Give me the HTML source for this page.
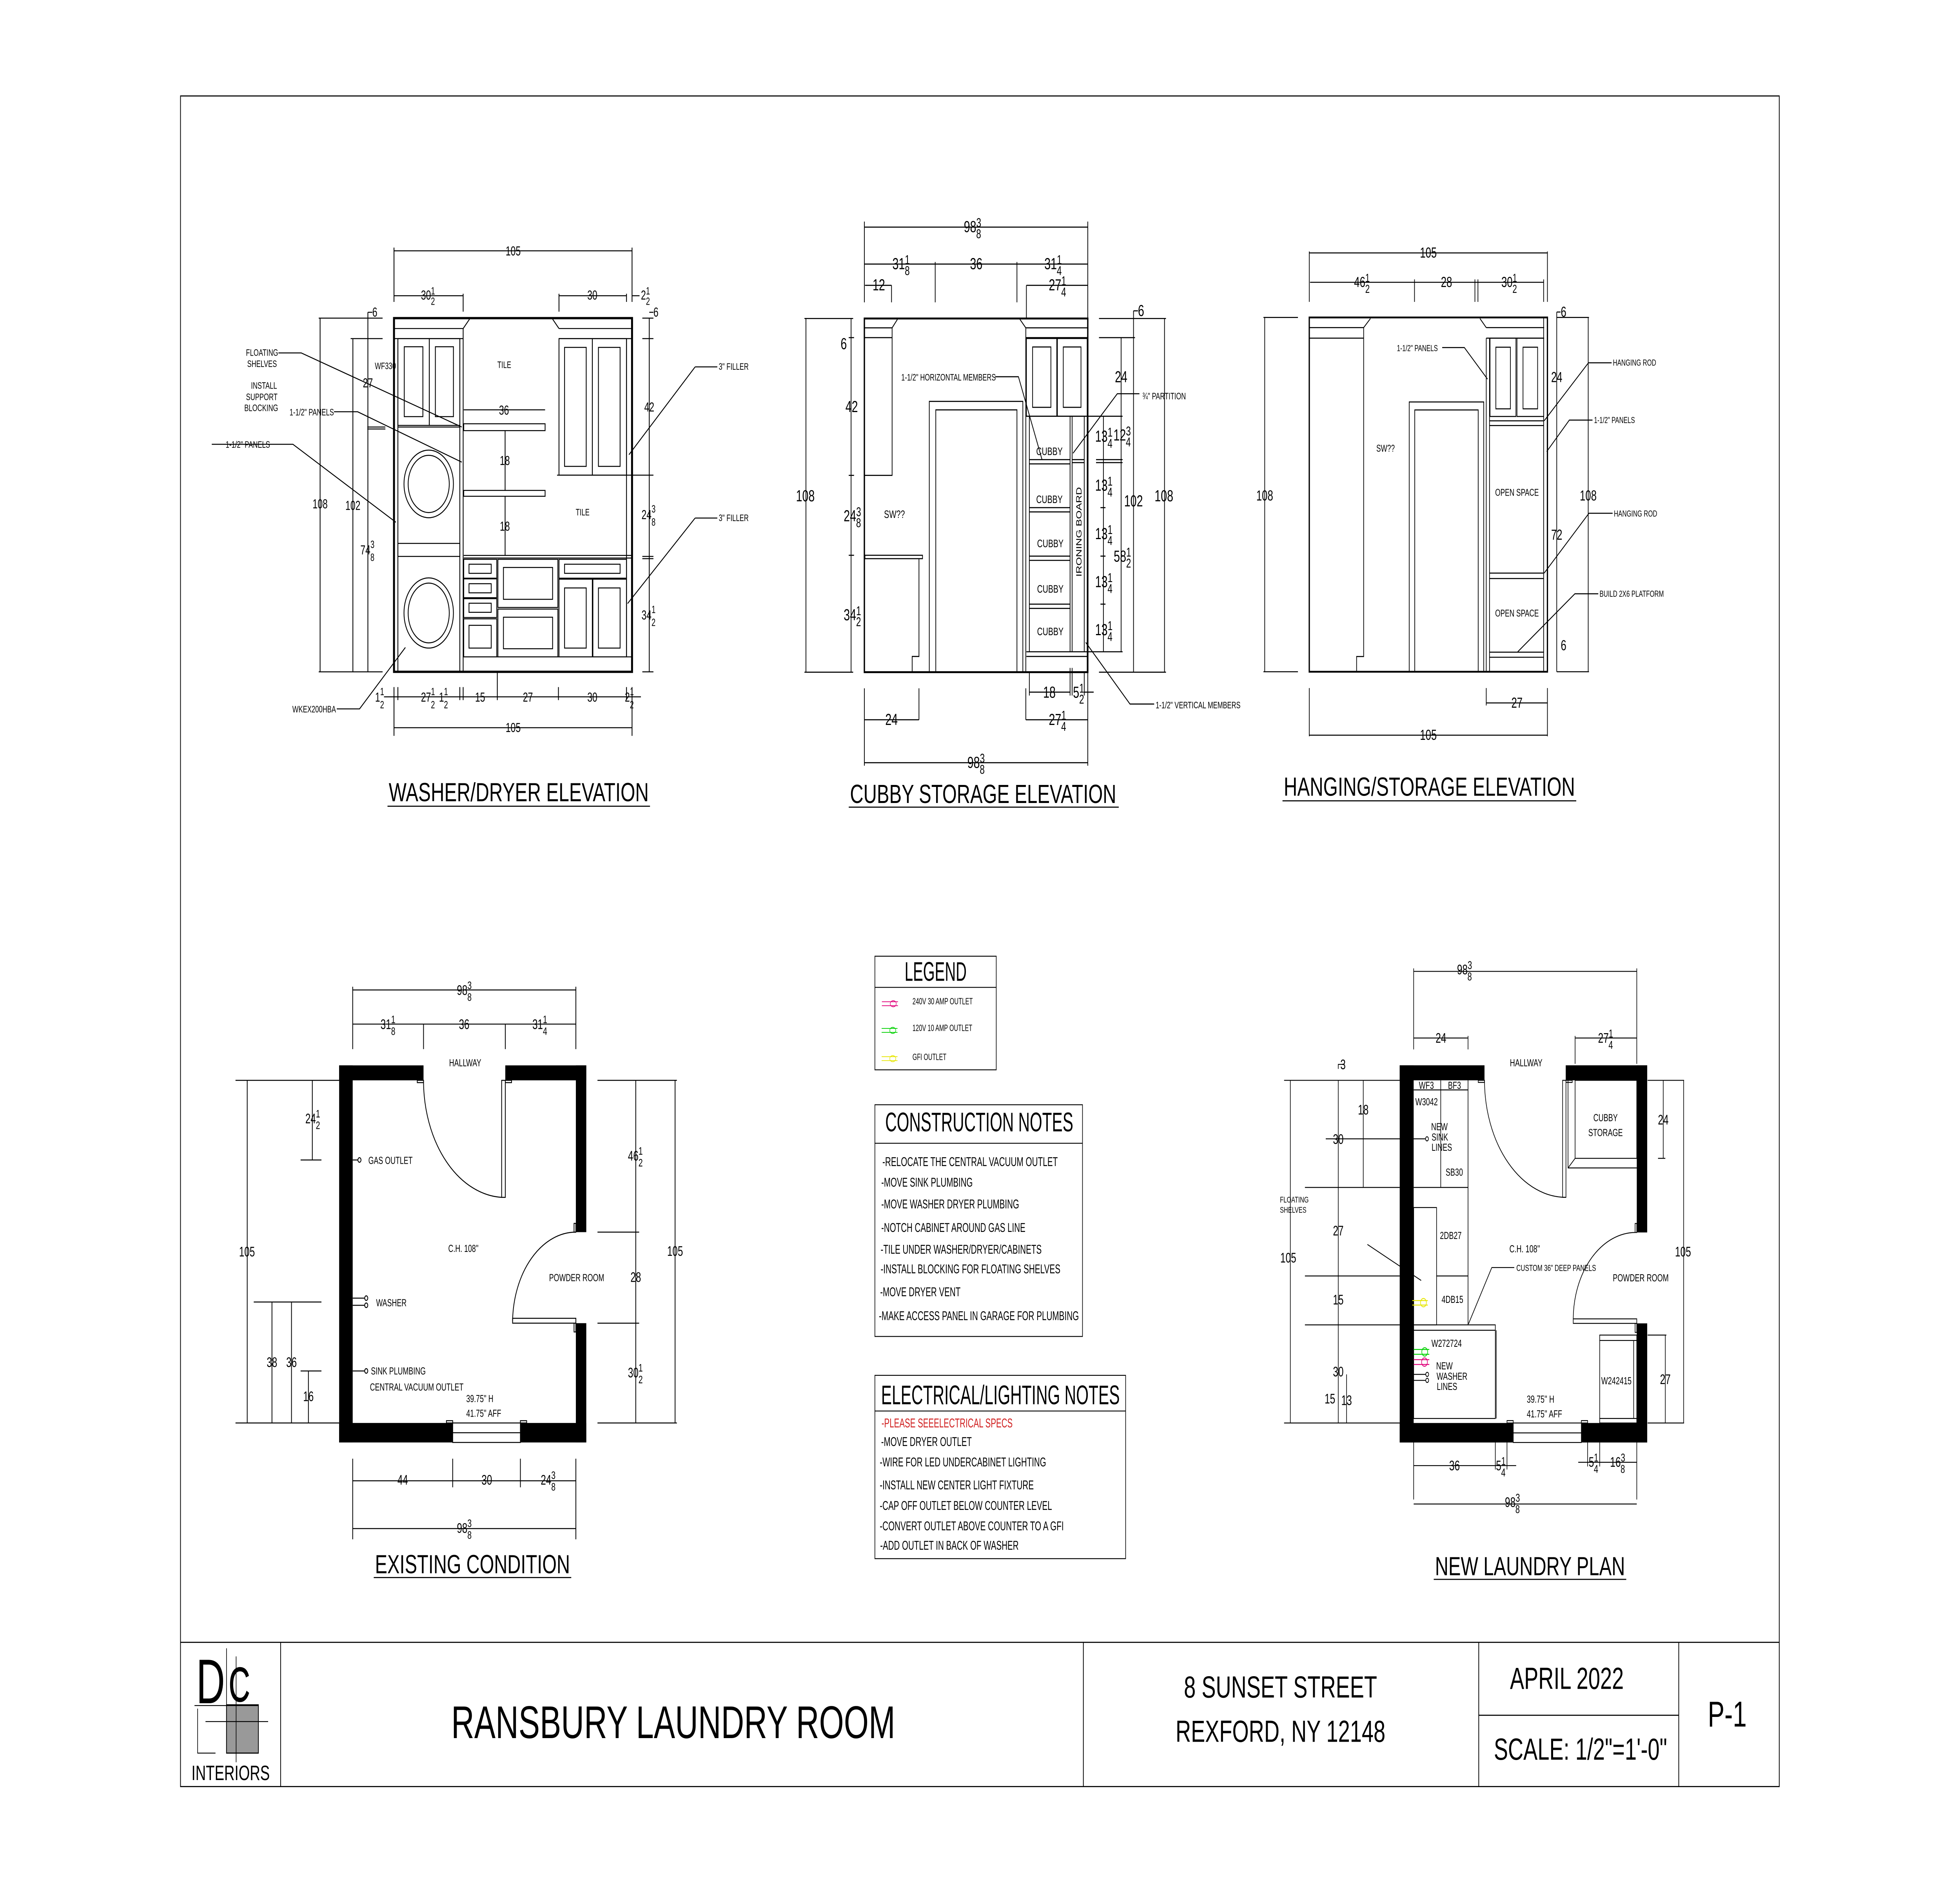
<!DOCTYPE html>
<html><head><meta charset="utf-8"><style>
html,body{margin:0;padding:0;background:#fff;overflow:hidden;width:100%;height:100%;}
svg{display:block;width:100vw;height:100vh;}
text{font-family:"Liberation Sans",Arial,sans-serif;fill:#000;}
</style></head><body>
<svg xmlns="http://www.w3.org/2000/svg" viewBox="0 0 1568 1045.3" preserveAspectRatio="none">
<rect x="0" y="0" width="1568" height="1045.3" fill="#fff"/>
<g fill="none" stroke="#000" stroke-width="0.6">
<rect x="144.4" y="53.3" width="1279" height="939"/>
<line x1="144.4" y1="912.2" x2="1423.4" y2="912.2"/>
<line x1="224.5" y1="912.2" x2="224.5" y2="992.4"/>
<line x1="866.7" y1="912.2" x2="866.7" y2="992.4"/>
<line x1="1183" y1="912.2" x2="1183" y2="992.4"/>
<line x1="1343" y1="912.2" x2="1343" y2="992.4"/>
<line x1="1183" y1="952.7" x2="1343" y2="952.7"/>
</g>
<text x="538.6" y="965.4" font-size="25.5" text-anchor="middle">RANSBURY LAUNDRY ROOM</text>
<text x="1024.4" y="942.8" font-size="17" text-anchor="middle">8 SUNSET STREET</text>
<text x="1024.4" y="967.4" font-size="17" text-anchor="middle">REXFORD, NY 12148</text>
<text x="1253.5" y="938" font-size="17" text-anchor="middle">APRIL 2022</text>
<text x="1264.4" y="977.4" font-size="17" text-anchor="middle">SCALE: 1/2"=1'-0"</text>
<text x="1381.8" y="959" font-size="20" text-anchor="middle">P-1</text>
<rect x="181.2" y="946.9" width="25.5" height="26.8" fill="#999" stroke="#000" stroke-width="0.6"/>
<text x="157" y="946" font-size="35" textLength="23" lengthAdjust="spacingAndGlyphs">D</text>
<text x="183" y="945" font-size="27" fill="none" stroke="#000" stroke-width="0.35" textLength="17" lengthAdjust="spacingAndGlyphs">C</text>
<g stroke="#000" stroke-width="0.5" fill="none">
<line x1="155.6" y1="947.3" x2="206.7" y2="947.3"/>
<line x1="181.2" y1="915.5" x2="181.2" y2="947.3"/>
<line x1="188.9" y1="920" x2="188.9" y2="978.8"/>
<line x1="164.4" y1="956.2" x2="214.5" y2="956.2"/>
<polyline points="158.1,949 158.1,973.7 172.4,973.7"/>
</g>
<text x="184.5" y="988.7" font-size="11.5" text-anchor="middle">INTERIORS</text>

<g font-size="14.5">
<text x="311" y="445" textLength="208" lengthAdjust="spacingAndGlyphs">WASHER/DRYER ELEVATION</text>
<text x="680" y="446" textLength="213" lengthAdjust="spacingAndGlyphs">CUBBY STORAGE ELEVATION</text>
<text x="1027" y="442" textLength="233" lengthAdjust="spacingAndGlyphs">HANGING/STORAGE ELEVATION</text>
<text x="300" y="873.8" textLength="156" lengthAdjust="spacingAndGlyphs">EXISTING CONDITION</text>
<text x="1148" y="874.9" textLength="152" lengthAdjust="spacingAndGlyphs">NEW LAUNDRY PLAN</text>
</g>
<g stroke="#000" stroke-width="0.6">
<line x1="310" y1="447.8" x2="520" y2="447.8"/>
<line x1="679" y1="448.3" x2="895" y2="448.3"/>
<line x1="1026" y1="444.8" x2="1261" y2="444.8"/>
<line x1="299" y1="876.2" x2="457" y2="876.2"/>
<line x1="1147" y1="877.2" x2="1301" y2="877.2"/>
</g>

<g fill="none" stroke="#000" stroke-width="0.5">
<rect x="699.9" y="531.1" width="97.1" height="63.1"/>
<line x1="699.9" y1="548.4" x2="797" y2="548.4"/>
<rect x="699.9" y="613.6" width="166.1" height="128.7"/>
<line x1="699.9" y1="635" x2="866" y2="635"/>
<rect x="699.9" y="763.9" width="200.6" height="101.8"/>
<line x1="699.9" y1="783.7" x2="900.5" y2="783.7"/>
</g>
<g stroke-width="0.4" fill="none">
<line x1="705.5" y1="556.4" x2="718.4" y2="556.4" stroke="#e0007a"/><line x1="705.5" y1="558.6" x2="718.4" y2="558.6" stroke="#e0007a"/><ellipse cx="714.6" cy="557.5" rx="2.4" ry="1.7" stroke="#e0007a"/>
<line x1="705.3" y1="571.2" x2="718" y2="571.2" stroke="#00d000"/><line x1="705.3" y1="573.4" x2="718" y2="573.4" stroke="#00d000"/><ellipse cx="714.2" cy="572.3" rx="2.4" ry="1.7" stroke="#00d000"/>
<line x1="705.3" y1="586.9" x2="718" y2="586.9" stroke="#e6e600"/><line x1="705.3" y1="589.1" x2="718" y2="589.1" stroke="#e6e600"/><ellipse cx="714.2" cy="588" rx="2.4" ry="1.7" stroke="#e6e600"/>
</g>
<text x="723.7" y="544.8" font-size="15" textLength="49.6" lengthAdjust="spacingAndGlyphs">LEGEND</text>
<g font-size="5">
<text x="730" y="557.8" textLength="48.2" lengthAdjust="spacingAndGlyphs">240V 30 AMP OUTLET</text>
<text x="730" y="572.6" textLength="47.8" lengthAdjust="spacingAndGlyphs">120V 10 AMP OUTLET</text>
<text x="730" y="588.7" textLength="27.1" lengthAdjust="spacingAndGlyphs">GFI OUTLET</text>
</g>
<text x="708.2" y="628.4" font-size="15" textLength="150.4" lengthAdjust="spacingAndGlyphs">CONSTRUCTION NOTES</text>
<g font-size="7">
<text x="705.9" y="647.7" textLength="140.3" lengthAdjust="spacingAndGlyphs">-RELOCATE THE CENTRAL VACUUM OUTLET</text>
<text x="705" y="659.1" textLength="73.2" lengthAdjust="spacingAndGlyphs">-MOVE SINK PLUMBING</text>
<text x="705" y="671.2" textLength="110.3" lengthAdjust="spacingAndGlyphs">-MOVE WASHER DRYER PLUMBING</text>
<text x="705" y="684.2" textLength="115.3" lengthAdjust="spacingAndGlyphs">-NOTCH CABINET AROUND GAS LINE</text>
<text x="704.5" y="696.3" textLength="128.8" lengthAdjust="spacingAndGlyphs">-TILE UNDER WASHER/DRYER/CABINETS</text>
<text x="704.5" y="707.2" textLength="143.8" lengthAdjust="spacingAndGlyphs">-INSTALL BLOCKING FOR FLOATING SHELVES</text>
<text x="704.1" y="719.9" textLength="64.3" lengthAdjust="spacingAndGlyphs">-MOVE DRYER VENT</text>
<text x="703.1" y="733.2" textLength="160" lengthAdjust="spacingAndGlyphs">-MAKE ACCESS PANEL IN GARAGE FOR PLUMBING</text>
</g>
<text x="704.9" y="779.9" font-size="15" textLength="190.9" lengthAdjust="spacingAndGlyphs">ELECTRICAL/LIGHTING NOTES</text>
<g font-size="7">
<text x="705.2" y="792.8" textLength="104.9" lengthAdjust="spacingAndGlyphs" style="fill:#d02020">-PLEASE SEEELECTRICAL SPECS</text>
<text x="704.9" y="803.1" textLength="72.5" lengthAdjust="spacingAndGlyphs">-MOVE DRYER OUTLET</text>
<text x="703.8" y="814.5" textLength="133.1" lengthAdjust="spacingAndGlyphs">-WIRE FOR LED UNDERCABINET LIGHTING</text>
<text x="703.8" y="827.2" textLength="123.2" lengthAdjust="spacingAndGlyphs">-INSTALL NEW CENTER LIGHT FIXTURE</text>
<text x="703.8" y="838.6" textLength="137.8" lengthAdjust="spacingAndGlyphs">-CAP OFF OUTLET BELOW COUNTER LEVEL</text>
<text x="703.8" y="850" textLength="147.2" lengthAdjust="spacingAndGlyphs">-CONVERT OUTLET ABOVE COUNTER TO A GFI</text>
<text x="704.1" y="860.7" textLength="110.8" lengthAdjust="spacingAndGlyphs">-ADD OUTLET IN BACK OF WASHER</text>
</g>

<!-- WASHER/DRYER ELEVATION -->
<g transform="translate(191.64 130.66) scale(0.22222 0.18055)">
<g fill="none" stroke="#000" stroke-width="3">
<rect x="556" y="255" width="857" height="1088" stroke-width="7"/>
<line x1="556" y1="287" x2="805" y2="287"/><line x1="556" y1="318" x2="805" y2="318"/>
<line x1="828" y1="258" x2="805" y2="287"/><line x1="1127" y1="258" x2="1150" y2="287"/>
<line x1="1150" y1="287" x2="1413" y2="287"/><line x1="1150" y1="318" x2="1413" y2="318"/>
<line x1="570" y1="318" x2="570" y2="1340"/><line x1="805" y1="287" x2="805" y2="1340"/><line x1="793" y1="318" x2="793" y2="1340"/>
<rect x="570" y="318" width="113" height="267"/><rect x="683" y="318" width="110" height="267"/>
<rect x="593" y="343" width="67" height="215"/><rect x="705" y="343" width="65" height="215"/>
<line x1="570" y1="590" x2="793" y2="590"/>
<rect x="570" y="948" width="223" height="40"/>
<ellipse cx="681" cy="765" rx="89" ry="104"/><ellipse cx="681" cy="765" rx="74" ry="88"/>
<ellipse cx="681" cy="1162" rx="89" ry="108"/><ellipse cx="681" cy="1162" rx="74" ry="92"/>
<rect x="807" y="580" width="293" height="21"/><rect x="807" y="785" width="293" height="18"/>
<rect x="1150" y="318" width="120" height="420"/><rect x="1270" y="318" width="123" height="420"/>
<rect x="1170" y="345" width="78" height="366"/><rect x="1292" y="345" width="78" height="366"/>
<line x1="1143" y1="738" x2="1413" y2="738"/><line x1="1393" y1="318" x2="1393" y2="1297"/>
<line x1="807" y1="985" x2="1413" y2="985"/><line x1="807" y1="993" x2="1413" y2="993"/>
<rect x="807" y="997" width="119" height="58"/><rect x="807" y="1057" width="119" height="58"/><rect x="807" y="1118" width="119" height="58"/><rect x="807" y="1180" width="119" height="117"/>
<rect x="826" y="1012" width="80" height="28"/><rect x="826" y="1072" width="80" height="28"/><rect x="826" y="1132" width="80" height="28"/><rect x="826" y="1200" width="80" height="70"/>
<rect x="930" y="997" width="216" height="148"/><rect x="930" y="1150" width="216" height="147"/>
<rect x="950" y="1022" width="177" height="98"/><rect x="950" y="1175" width="177" height="97"/>
<rect x="1150" y="997" width="243" height="58"/><rect x="1170" y="1012" width="200" height="28"/>
<rect x="1150" y="1058" width="120" height="239"/><rect x="1272" y="1058" width="121" height="239"/>
<rect x="1170" y="1085" width="78" height="185"/><rect x="1292" y="1085" width="78" height="185"/>
<line x1="807" y1="1297" x2="1413" y2="1297"/>
<line x1="556" y1="48" x2="1413" y2="48"/><line x1="556" y1="38" x2="556" y2="205"/><line x1="1413" y1="38" x2="1413" y2="205"/>
<line x1="556" y1="186" x2="805" y2="186"/><line x1="805" y1="180" x2="805" y2="235"/>
<line x1="1150" y1="186" x2="1393" y2="186"/><line x1="1150" y1="180" x2="1150" y2="235"/><line x1="1393" y1="180" x2="1393" y2="205"/><line x1="1413" y1="186" x2="1440" y2="186"/>
<line x1="290" y1="255" x2="290" y2="1343"/><line x1="408" y1="318" x2="408" y2="1343"/><line x1="462" y1="237" x2="462" y2="1343"/>
<line x1="285" y1="255" x2="515" y2="255"/><line x1="400" y1="318" x2="515" y2="318"/><line x1="285" y1="1343" x2="515" y2="1343"/>
<line x1="460" y1="590" x2="525" y2="590"/><line x1="460" y1="596" x2="525" y2="596"/><line x1="462" y1="237" x2="478" y2="237"/>
<line x1="1475" y1="255" x2="1475" y2="1343"/><line x1="1475" y1="237" x2="1490" y2="237"/>
<line x1="1450" y1="255" x2="1490" y2="255"/><line x1="1450" y1="318" x2="1490" y2="318"/><line x1="1413" y1="738" x2="1490" y2="738"/><line x1="1450" y1="988" x2="1490" y2="988"/><line x1="1450" y1="995" x2="1490" y2="995"/><line x1="1450" y1="1343" x2="1490" y2="1343"/>
<line x1="520" y1="1420" x2="1445" y2="1420"/>
<line x1="556" y1="1390" x2="556" y2="1540"/><line x1="570" y1="1390" x2="570" y2="1430"/><line x1="793" y1="1390" x2="793" y2="1430"/><line x1="805" y1="1390" x2="805" y2="1430"/><line x1="928" y1="1343" x2="928" y2="1430"/><line x1="1148" y1="1390" x2="1148" y2="1430"/><line x1="1393" y1="1390" x2="1393" y2="1430"/><line x1="1413" y1="1390" x2="1413" y2="1540"/>
<line x1="556" y1="1515" x2="1413" y2="1515"/>
<line x1="956" y1="601" x2="956" y2="785"/><line x1="956" y1="803" x2="956" y2="985"/>
<line x1="807" y1="537" x2="1100" y2="537"/>
<polyline points="140,362 222,362 800,590"/>
<polyline points="340,543 425,543 800,698"/>
<polyline points="-100,643 192,643 563,883"/>
<polyline points="350,1457 432,1457 597,1268"/>
<line x1="1640" y1="405" x2="1402" y2="675"/>
<line x1="1640" y1="870" x2="1397" y2="1133"/>
<line x1="1640" y1="405" x2="1720" y2="405"/>
<line x1="1640" y1="870" x2="1720" y2="870"/>
</g>
<g font-size="40">
<text transform="translate(985 62) scale(0.8125 1)" text-anchor="middle">105</text>
<text transform="translate(653 198) scale(0.8125 1)">30<tspan font-size="32" dy="-16">1</tspan><tspan font-size="32" dx="-18" dy="32">2</tspan></text>
<text transform="translate(1270 198) scale(0.8125 1)" text-anchor="middle">30</text>
<text transform="translate(1445 198) scale(0.8125 1)">2<tspan font-size="32" dy="-16">1</tspan><tspan font-size="32" dx="-18" dy="32">2</tspan></text>
<text transform="translate(478 250) scale(0.8125 1)">6</text>
<text transform="translate(1490 250) scale(0.8125 1)">6</text>
<text transform="translate(462 468) scale(0.8125 1)" text-anchor="middle">27</text>
<text transform="translate(952 552) scale(0.8125 1)" text-anchor="middle">36</text>
<text transform="translate(1475 542) scale(0.8125 1)" text-anchor="middle">42</text>
<text transform="translate(955 707) scale(0.8125 1)" text-anchor="middle">18</text>
<text transform="translate(955 909) scale(0.8125 1)" text-anchor="middle">18</text>
<text transform="translate(290 840) scale(0.8125 1)" text-anchor="middle">108</text>
<text transform="translate(408 845) scale(0.8125 1)" text-anchor="middle">102</text>
<text transform="translate(435 982) scale(0.8125 1)">74<tspan font-size="32" dy="-20">3</tspan><tspan font-size="32" dx="-18" dy="40">8</tspan></text>
<text transform="translate(1447 873) scale(0.8125 1)">24<tspan font-size="32" dy="-20">3</tspan><tspan font-size="32" dx="-18" dy="40">8</tspan></text>
<text transform="translate(1447 1182) scale(0.8125 1)">34<tspan font-size="32" dy="-20">1</tspan><tspan font-size="32" dx="-18" dy="40">2</tspan></text>
<text transform="translate(488 1435) scale(0.8125 1)">1<tspan font-size="32" dy="-20">1</tspan><tspan font-size="32" dx="-18" dy="40">2</tspan></text>
<text transform="translate(653 1435) scale(0.8125 1)">27<tspan font-size="32" dy="-20">1</tspan><tspan font-size="32" dx="-18" dy="40">2</tspan></text>
<text transform="translate(718 1435) scale(0.8125 1)">1<tspan font-size="32" dy="-20">1</tspan><tspan font-size="32" dx="-18" dy="40">2</tspan></text>
<text transform="translate(866 1435) scale(0.8125 1)" text-anchor="middle">15</text>
<text transform="translate(1038 1435) scale(0.8125 1)" text-anchor="middle">27</text>
<text transform="translate(1270 1435) scale(0.8125 1)" text-anchor="middle">30</text>
<text transform="translate(1387 1435) scale(0.8125 1)">2<tspan font-size="32" dy="-20">1</tspan><tspan font-size="32" dx="-18" dy="40">2</tspan></text>
<text transform="translate(985 1528) scale(0.8125 1)" text-anchor="middle">105</text>
</g>
<g font-size="29">
<text transform="translate(487 412) scale(0.8125 1)">WF330</text>
<text transform="translate(953 408) scale(0.8125 1)" text-anchor="middle">TILE</text>
<text transform="translate(1235 862) scale(0.8125 1)" text-anchor="middle">TILE</text>
<text transform="translate(81 371) scale(0.8125 1)" text-anchor="middle">FLOATING</text>
<text transform="translate(81 405) scale(0.8125 1)" text-anchor="middle">SHELVES</text>
<text transform="translate(88 472) scale(0.8125 1)" text-anchor="middle">INSTALL</text>
<text transform="translate(80 507) scale(0.8125 1)" text-anchor="middle">SUPPORT</text>
<text transform="translate(78 541) scale(0.8125 1)" text-anchor="middle">BLOCKING</text>
<text transform="translate(180 554) scale(0.8125 1)">1-1/2" PANELS</text>
<text transform="translate(-50 654) scale(0.8125 1)">1-1/2" PANELS</text>
<text transform="translate(190 1468) scale(0.8125 1)">WKEX200HBA</text>
<text transform="translate(1725 414) scale(0.8125 1)">3" FILLER</text>
<text transform="translate(1725 879) scale(0.8125 1)">3" FILLER</text>
</g>
</g>

<!-- CUBBY STORAGE ELEVATION -->
<g transform="translate(629.4 108.9) scale(0.2361)">
<g fill="none" stroke="#000" stroke-width="2.5">
<rect x="263" y="288" width="757" height="832" stroke-width="4.5"/>
<line x1="263" y1="310" x2="357" y2="310"/><line x1="375" y1="290" x2="357" y2="310"/><line x1="263" y1="333" x2="357" y2="333"/>
<polyline points="357,310 357,657 265,657"/>
<rect x="265" y="845" width="195" height="8"/>
<polyline points="448,853 448,1083 425,1083 425,1120"/>
<polyline points="483,1120 483,483 800,483 800,1120"/>
<polyline points="505,1120 505,503 780,503 780,1120"/>
<line x1="810" y1="310" x2="810" y2="1120"/>
<line x1="790" y1="290" x2="810" y2="310"/><line x1="810" y1="310" x2="1020" y2="310"/><line x1="810" y1="333" x2="1020" y2="333"/>
<rect x="812" y="335" width="103" height="183"/><rect x="917" y="335" width="101" height="183"/>
<rect x="833" y="355" width="62" height="142"/><rect x="937" y="355" width="60" height="142"/>
<line x1="822" y1="518" x2="822" y2="1072"/><line x1="812" y1="518" x2="1018" y2="518"/>
<line x1="822" y1="620" x2="960" y2="620"/><line x1="822" y1="630" x2="960" y2="630"/>
<line x1="822" y1="733" x2="960" y2="733"/><line x1="822" y1="743" x2="960" y2="743"/>
<line x1="822" y1="847" x2="960" y2="847"/><line x1="822" y1="857" x2="960" y2="857"/>
<line x1="822" y1="960" x2="960" y2="960"/><line x1="822" y1="970" x2="960" y2="970"/>
<line x1="812" y1="1072" x2="1018" y2="1072"/><line x1="812" y1="1083" x2="1018" y2="1083"/>
<line x1="960" y1="518" x2="960" y2="1072"/><line x1="967" y1="518" x2="967" y2="1072"/>
<line x1="1008" y1="518" x2="1008" y2="1072"/><line x1="1018" y1="333" x2="1018" y2="1120"/>
<line x1="967" y1="620" x2="1008" y2="620"/><line x1="967" y1="627" x2="1008" y2="627"/>
<polyline points="706,425 785,425 865,620"/>
<polyline points="1195,465 1120,465 970,605"/>
<polyline points="1245,1195 1163,1195 1013,1050"/>
<line x1="263" y1="73" x2="1020" y2="73"/><line x1="263" y1="60" x2="263" y2="250"/><line x1="1020" y1="60" x2="1020" y2="288"/>
<line x1="263" y1="160" x2="1020" y2="160"/><line x1="503" y1="155" x2="503" y2="250"/><line x1="780" y1="155" x2="780" y2="250"/>
<line x1="265" y1="210" x2="355" y2="210"/><line x1="355" y1="210" x2="355" y2="250"/>
<line x1="812" y1="210" x2="1020" y2="210"/><line x1="812" y1="210" x2="812" y2="288"/>
<line x1="65" y1="288" x2="65" y2="1120"/><line x1="60" y1="288" x2="225" y2="288"/><line x1="60" y1="1120" x2="225" y2="1120"/>
<line x1="218" y1="288" x2="218" y2="1120"/>
<line x1="210" y1="333" x2="228" y2="333"/><line x1="210" y1="657" x2="228" y2="657"/><line x1="210" y1="845" x2="228" y2="845"/>
<line x1="1058" y1="288" x2="1285" y2="288"/><line x1="1058" y1="333" x2="1180" y2="333"/><line x1="1018" y1="518" x2="1138" y2="518"/><line x1="1018" y1="1072" x2="1138" y2="1072"/><line x1="1058" y1="1120" x2="1285" y2="1120"/>
<line x1="1280" y1="288" x2="1280" y2="1120"/><line x1="1175" y1="270" x2="1175" y2="1120"/><line x1="1175" y1="270" x2="1190" y2="270"/>
<line x1="1133" y1="333" x2="1133" y2="1072"/><line x1="1073" y1="518" x2="1073" y2="1072"/>
<line x1="1048" y1="620" x2="1138" y2="620"/><line x1="1048" y1="627" x2="1138" y2="627"/>
<line x1="1063" y1="733" x2="1080" y2="733"/><line x1="1063" y1="847" x2="1080" y2="847"/><line x1="1063" y1="960" x2="1080" y2="960"/>
<line x1="263" y1="1158" x2="263" y2="1340"/><line x1="448" y1="1158" x2="448" y2="1232"/><line x1="263" y1="1232" x2="448" y2="1232"/>
<line x1="810" y1="1158" x2="810" y2="1232"/><line x1="1020" y1="1120" x2="1020" y2="1340"/><line x1="810" y1="1232" x2="1020" y2="1232"/>
<line x1="822" y1="1120" x2="822" y2="1175"/><line x1="960" y1="1110" x2="960" y2="1175"/><line x1="967" y1="1110" x2="967" y2="1175"/><line x1="1008" y1="1120" x2="1008" y2="1175"/>
<line x1="822" y1="1167" x2="960" y2="1167"/><line x1="1008" y1="1167" x2="1040" y2="1167"/>
<line x1="263" y1="1333" x2="1020" y2="1333"/>
</g>
<g font-size="38">
<text x="600" y="85">98<tspan font-size="30" dy="-12">3</tspan><tspan font-size="30" dx="-17" dy="26">8</tspan></text>
<text x="358" y="172">31<tspan font-size="30" dy="-12">1</tspan><tspan font-size="30" dx="-17" dy="26">8</tspan></text>
<text x="642" y="172" text-anchor="middle">36</text>
<text x="873" y="172">31<tspan font-size="30" dy="-12">1</tspan><tspan font-size="30" dx="-17" dy="26">4</tspan></text>
<text x="312" y="222" text-anchor="middle">12</text>
<text x="888" y="222">27<tspan font-size="30" dy="-12">1</tspan><tspan font-size="30" dx="-17" dy="26">4</tspan></text>
<text x="1190" y="282">6</text>
<text x="63" y="718" text-anchor="middle">108</text>
<text x="193" y="360" text-anchor="middle">6</text>
<text x="220" y="508" text-anchor="middle">42</text>
<text x="193" y="765">24<tspan font-size="30" dy="-12">3</tspan><tspan font-size="30" dx="-17" dy="26">8</tspan></text>
<text x="193" y="998">34<tspan font-size="30" dy="-12">1</tspan><tspan font-size="30" dx="-17" dy="26">2</tspan></text>
<text x="1133" y="438" text-anchor="middle">24</text>
<text x="1107" y="575">12<tspan font-size="30" dy="-12">3</tspan><tspan font-size="30" dx="-17" dy="26">4</tspan></text>
<text x="1045" y="578">13<tspan font-size="30" dy="-12">1</tspan><tspan font-size="30" dx="-17" dy="26">4</tspan></text>
<text x="1045" y="693">13<tspan font-size="30" dy="-12">1</tspan><tspan font-size="30" dx="-17" dy="26">4</tspan></text>
<text x="1045" y="807">13<tspan font-size="30" dy="-12">1</tspan><tspan font-size="30" dx="-17" dy="26">4</tspan></text>
<text x="1045" y="920">13<tspan font-size="30" dy="-12">1</tspan><tspan font-size="30" dx="-17" dy="26">4</tspan></text>
<text x="1045" y="1033">13<tspan font-size="30" dy="-12">1</tspan><tspan font-size="30" dx="-17" dy="26">4</tspan></text>
<text x="1175" y="730" text-anchor="middle">102</text>
<text x="1278" y="718" text-anchor="middle">108</text>
<text x="1108" y="860">58<tspan font-size="30" dy="-12">1</tspan><tspan font-size="30" dx="-17" dy="26">2</tspan></text>
<text x="355" y="1244" text-anchor="middle">24</text>
<text x="888" y="1244">27<tspan font-size="30" dy="-12">1</tspan><tspan font-size="30" dx="-17" dy="26">4</tspan></text>
<text x="890" y="1180" text-anchor="middle">18</text>
<text x="970" y="1180">5<tspan font-size="30" dy="-12">1</tspan><tspan font-size="30" dx="-17" dy="26">2</tspan></text>
<text x="612" y="1345">98<tspan font-size="30" dy="-12">3</tspan><tspan font-size="30" dx="-17" dy="26">8</tspan></text>
</g>
<g font-size="26">
<text x="890" y="609" text-anchor="middle">CUBBY</text>
<text x="890" y="722" text-anchor="middle">CUBBY</text>
<text x="893" y="826" text-anchor="middle">CUBBY</text>
<text x="893" y="933" text-anchor="middle">CUBBY</text>
<text x="893" y="1033" text-anchor="middle">CUBBY</text>
<text x="365" y="757" text-anchor="middle">SW??</text>
<text transform="translate(999 790) rotate(-90)" text-anchor="middle">IRONING BOARD</text>
<text x="388" y="434" font-size="22">1-1/2" HORIZONTAL MEMBERS</text>
<text x="1205" y="478" font-size="22">¾" PARTITION</text>
<text x="1250" y="1205" font-size="22">1-1/2" VERTICAL MEMBERS</text>
</g>
</g>

<!-- HANGING/STORAGE ELEVATION -->
<g transform="translate(1001.7 121.95) scale(0.2014)">
<g fill="none" stroke="#000" stroke-width="2.8">
<rect x="227" y="270" width="946" height="977" stroke-width="5"/>
<line x1="227" y1="298" x2="443" y2="298"/><line x1="470" y1="273" x2="443" y2="298"/><line x1="227" y1="327" x2="443" y2="327"/>
<polyline points="443,298 443,1205 415,1205 415,1247"/>
<line x1="905" y1="273" x2="930" y2="298"/><line x1="930" y1="298" x2="1160" y2="298"/><line x1="930" y1="327" x2="1160" y2="327"/>
<line x1="1158" y1="270" x2="1158" y2="1247"/>
<line x1="930" y1="327" x2="930" y2="1247"/><line x1="943" y1="327" x2="943" y2="1247"/>
<rect x="945" y="327" width="103" height="216"/><rect x="1052" y="327" width="106" height="216"/>
<rect x="968" y="352" width="58" height="170"/><rect x="1076" y="352" width="58" height="170"/>
<line x1="943" y1="555" x2="1158" y2="555"/><line x1="943" y1="568" x2="1158" y2="568"/>
<line x1="943" y1="975" x2="1158" y2="975"/><line x1="943" y1="990" x2="1158" y2="990"/>
<line x1="943" y1="1193" x2="1158" y2="1193"/><line x1="943" y1="1207" x2="1158" y2="1207"/>
<polyline points="624,1247 624,503 920,503 920,1247"/>
<polyline points="646,1247 646,525 898,525 898,1247"/>
<polyline points="755,353 843,353 935,440"/>
<polyline points="1428,395 1336,395 1160,555"/>
<polyline points="1352,553 1260,553 1170,640"/>
<polyline points="1432,810 1338,810 1160,975"/>
<polyline points="1375,1032 1282,1032 1055,1192"/>
<line x1="227" y1="92" x2="1173" y2="92"/><line x1="227" y1="88" x2="227" y2="227"/><line x1="1173" y1="88" x2="1173" y2="227"/>
<line x1="230" y1="173" x2="1158" y2="173"/><line x1="645" y1="165" x2="645" y2="227"/><line x1="885" y1="165" x2="885" y2="227"/><line x1="897" y1="165" x2="897" y2="227"/><line x1="1158" y1="165" x2="1158" y2="227"/>
<line x1="50" y1="270" x2="50" y2="1247"/><line x1="45" y1="270" x2="182" y2="270"/><line x1="45" y1="1247" x2="182" y2="1247"/>
<line x1="1210" y1="270" x2="1338" y2="270"/><line x1="1210" y1="1247" x2="1338" y2="1247"/>
<line x1="1335" y1="270" x2="1335" y2="1247"/><line x1="1210" y1="255" x2="1210" y2="1247"/><line x1="1210" y1="255" x2="1225" y2="255"/>
<line x1="930" y1="1292" x2="930" y2="1340"/><line x1="1173" y1="1292" x2="1173" y2="1425"/><line x1="227" y1="1292" x2="227" y2="1425"/>
<line x1="930" y1="1333" x2="1173" y2="1333"/><line x1="227" y1="1422" x2="1173" y2="1422"/>
</g>
<g font-size="40">
<text x="700" y="105" text-anchor="middle">105</text>
<text x="405" y="186">46<tspan font-size="32" dy="-14">1</tspan><tspan font-size="32" dx="-18" dy="30">2</tspan></text>
<text x="772" y="186" text-anchor="middle">28</text>
<text x="990" y="186">30<tspan font-size="32" dy="-14">1</tspan><tspan font-size="32" dx="-18" dy="30">2</tspan></text>
<text x="50" y="775" text-anchor="middle">108</text>
<text x="1335" y="775" text-anchor="middle">108</text>
<text x="1237" y="268" text-anchor="middle">6</text>
<text x="1210" y="448" text-anchor="middle">24</text>
<text x="1210" y="883" text-anchor="middle">72</text>
<text x="1237" y="1188" text-anchor="middle">6</text>
<text x="1052" y="1346" text-anchor="middle">27</text>
<text x="700" y="1435" text-anchor="middle">105</text>
</g>
<g font-size="27">
<text x="530" y="640" text-anchor="middle">SW??</text>
<text x="1052" y="762" text-anchor="middle">OPEN SPACE</text>
<text x="1052" y="1095" text-anchor="middle">OPEN SPACE</text>
<text x="575" y="363" font-size="24">1-1/2" PANELS</text>
<text x="1433" y="403" font-size="24">HANGING ROD</text>
<text x="1358" y="561" font-size="24">1-1/2" PANELS</text>
<text x="1437" y="819" font-size="24">HANGING ROD</text>
<text x="1380" y="1040" font-size="24">BUILD 2X6 PLATFORM</text>
</g>
</g>

<!-- EXISTING CONDITION -->
<g transform="translate(261.32 544.43) scale(0.20833 0.18055)">
<g fill="#000">
<rect x="48" y="262" width="324" height="46"/><rect x="686" y="262" width="311" height="46"/>
<rect x="48" y="262" width="52" height="1160"/>
<rect x="957" y="262" width="40" height="513"/><rect x="957" y="1055" width="40" height="367"/>
<rect x="48" y="1362" width="436" height="60"/><rect x="744" y="1362" width="253" height="60"/>
</g>
<g fill="none" stroke="#000" stroke-width="3">
<rect x="484" y="1362" width="260" height="60"/><line x1="484" y1="1392" x2="744" y2="1392"/>
<rect x="460" y="1355" width="24" height="7"/><rect x="744" y="1355" width="24" height="7"/>
<rect x="672" y="308" width="14" height="360"/>
<path d="M372,308 A314,360 0 0 0 672,668"/>
<rect x="348" y="308" width="24" height="7"/><rect x="686" y="308" width="24" height="7"/>
<rect x="714" y="1040" width="243" height="15"/>
<path d="M957,775 A243,280 0 0 0 714,1050"/>
<rect x="950" y="748" width="7" height="27"/><rect x="950" y="1055" width="7" height="27"/>
<line x1="100" y1="553" x2="120" y2="553"/><ellipse cx="126" cy="553" rx="6" ry="7"/>
<line x1="100" y1="978" x2="146" y2="978"/><ellipse cx="152" cy="978" rx="6" ry="7"/>
<line x1="100" y1="1000" x2="146" y2="1000"/><ellipse cx="152" cy="1000" rx="6" ry="7"/>
<line x1="100" y1="1202" x2="146" y2="1202"/><ellipse cx="152" cy="1202" rx="6" ry="7"/>
<line x1="100" y1="30" x2="957" y2="30"/><line x1="100" y1="20" x2="100" y2="212"/><line x1="957" y1="20" x2="957" y2="212"/>
<line x1="100" y1="135" x2="957" y2="135"/><line x1="372" y1="135" x2="372" y2="212"/><line x1="686" y1="135" x2="686" y2="212"/>
<line x1="1040" y1="308" x2="1345" y2="308"/><line x1="1040" y1="775" x2="1200" y2="775"/><line x1="1040" y1="1055" x2="1200" y2="1055"/><line x1="1040" y1="1362" x2="1345" y2="1362"/>
<line x1="1187" y1="308" x2="1187" y2="1362"/><line x1="1338" y1="308" x2="1338" y2="1362"/>
<line x1="100" y1="1472" x2="100" y2="1720"/><line x1="484" y1="1472" x2="484" y2="1560"/><line x1="744" y1="1472" x2="744" y2="1560"/><line x1="957" y1="1472" x2="957" y2="1720"/>
<line x1="100" y1="1540" x2="957" y2="1540"/><line x1="100" y1="1687" x2="957" y2="1687"/>
<line x1="-350" y1="308" x2="48" y2="308"/><line x1="-350" y1="1362" x2="48" y2="1362"/>
<line x1="-100" y1="553" x2="-20" y2="553"/><line x1="-280" y1="990" x2="-20" y2="990"/><line x1="-100" y1="1202" x2="-20" y2="1202"/>
<line x1="-305" y1="308" x2="-305" y2="1362"/><line x1="-55" y1="308" x2="-55" y2="553"/>
<line x1="-210" y1="990" x2="-210" y2="1362"/><line x1="-135" y1="990" x2="-135" y2="1362"/><line x1="-70" y1="1202" x2="-70" y2="1362"/>
</g>
<g font-size="42">
<text transform="translate(500 45) scale(0.8667 1)">98<tspan font-size="34" dy="-18">3</tspan><tspan font-size="34" dx="-19" dy="36">8</tspan></text>
<text transform="translate(207 150) scale(0.8667 1)">31<tspan font-size="34" dy="-18">1</tspan><tspan font-size="34" dx="-19" dy="36">8</tspan></text>
<text transform="translate(528 150) scale(0.8667 1)" text-anchor="middle">36</text>
<text transform="translate(790 150) scale(0.8667 1)">31<tspan font-size="34" dy="-18">1</tspan><tspan font-size="34" dx="-19" dy="36">4</tspan></text>
<text transform="translate(1157 555) scale(0.8667 1)">46<tspan font-size="34" dy="-18">1</tspan><tspan font-size="34" dx="-19" dy="36">2</tspan></text>
<text transform="translate(1187 928) scale(0.8667 1)" text-anchor="middle">28</text>
<text transform="translate(1338 848) scale(0.8667 1)" text-anchor="middle">105</text>
<text transform="translate(1157 1222) scale(0.8667 1)">30<tspan font-size="34" dy="-18">1</tspan><tspan font-size="34" dx="-19" dy="36">2</tspan></text>
<text transform="translate(292 1552) scale(0.8667 1)" text-anchor="middle">44</text>
<text transform="translate(615 1552) scale(0.8667 1)" text-anchor="middle">30</text>
<text transform="translate(822 1552) scale(0.8667 1)">24<tspan font-size="34" dy="-18">3</tspan><tspan font-size="34" dx="-19" dy="36">8</tspan></text>
<text transform="translate(500 1700) scale(0.8667 1)">98<tspan font-size="34" dy="-18">3</tspan><tspan font-size="34" dx="-19" dy="36">8</tspan></text>
<text transform="translate(-306 850) scale(0.8667 1)" text-anchor="middle">105</text>
<text transform="translate(-82 440) scale(0.8667 1)">24<tspan font-size="34" dy="-18">1</tspan><tspan font-size="34" dx="-19" dy="36">2</tspan></text>
<text transform="translate(-210 1190) scale(0.8667 1)" text-anchor="middle">38</text>
<text transform="translate(-135 1190) scale(0.8667 1)" text-anchor="middle">36</text>
<text transform="translate(-70 1295) scale(0.8667 1)" text-anchor="middle">16</text>
</g>
<g font-size="31">
<text transform="translate(532 265) scale(0.8667 1)" text-anchor="middle">HALLWAY</text>
<text transform="translate(160 565) scale(0.8667 1)">GAS OUTLET</text>
<text transform="translate(525 836) scale(0.8667 1)" text-anchor="middle">C.H. 108''</text>
<text transform="translate(960 926) scale(0.8667 1)" text-anchor="middle">POWDER ROOM</text>
<text transform="translate(190 1003) scale(0.8667 1)">WASHER</text>
<text transform="translate(170 1213) scale(0.8667 1)">SINK PLUMBING</text>
<text transform="translate(166 1262) scale(0.8667 1)">CENTRAL VACUUM OUTLET</text>
<text transform="translate(536 1298) scale(0.8667 1)">39.75'' H</text>
<text transform="translate(536 1343) scale(0.8667 1)">41.75'' AFF</text>
</g>
</g>

<!-- NEW LAUNDRY PLAN -->
<g transform="translate(1110.6 566.2) scale(0.16666)">
<g fill="#000">
<rect x="55" y="153" width="407" height="50"/><rect x="852" y="153" width="391" height="50"/>
<rect x="55" y="153" width="67" height="1257"/>
<rect x="1193" y="153" width="50" height="557"/><rect x="1193" y="1013" width="50" height="397"/>
<rect x="55" y="1345" width="545" height="65"/><rect x="927" y="1345" width="316" height="65"/>
</g>
<g fill="none" stroke="#000" stroke-width="3">
<rect x="600" y="1345" width="327" height="65"/><line x1="600" y1="1378" x2="927" y2="1378"/>
<rect x="570" y="1337" width="30" height="8"/><rect x="927" y="1337" width="30" height="8"/>
<line x1="252" y1="203" x2="252" y2="560"/><line x1="122" y1="235" x2="383" y2="235"/><line x1="122" y1="560" x2="383" y2="560"/>
<line x1="383" y1="203" x2="383" y2="1018"/>
<rect x="122" y="627" width="110" height="391"/><line x1="232" y1="855" x2="383" y2="855"/>
<rect x="122" y="1018" width="392" height="312"/><line x1="122" y1="1036" x2="514" y2="1036"/><line x1="518" y1="1036" x2="518" y2="1330"/>
<rect x="432" y="203" width="30" height="7"/>
<rect x="897" y="203" width="296" height="260"/>
<polyline points="863,203 863,495 1193,495"/><line x1="863" y1="495" x2="897" y2="463"/>
<rect x="837" y="203" width="16" height="390"/><rect x="853" y="203" width="30" height="7"/>
<path d="M462,203 A391,391 0 0 0 853,593"/>
<rect x="888" y="998" width="305" height="15"/>
<path d="M1185,710 A300,290 0 0 0 888,998"/>
<rect x="1185" y="680" width="8" height="30"/><rect x="1185" y="1013" width="8" height="30"/>
<rect x="1015" y="1052" width="178" height="293"/><line x1="1015" y1="1070" x2="1193" y2="1070"/><line x1="1178" y1="1070" x2="1178" y2="1330"/><line x1="1015" y1="1330" x2="1193" y2="1330"/>
<line x1="0" y1="398" x2="180" y2="398"/><circle cx="186" cy="398" r="7"/>
<line x1="122" y1="1183" x2="180" y2="1183"/><circle cx="187" cy="1183" r="7"/>
<line x1="122" y1="1203" x2="180" y2="1203"/><circle cx="187" cy="1203" r="7"/>
<polyline points="605,827 497,827 385,1015"/>
<line x1="-100" y1="750" x2="158" y2="870"/>
<line x1="122" y1="62" x2="383" y2="62"/><line x1="122" y1="0" x2="122" y2="100"/><line x1="383" y1="55" x2="383" y2="100"/>
<line x1="897" y1="62" x2="1193" y2="62"/><line x1="897" y1="55" x2="897" y2="148"/><line x1="1193" y1="0" x2="1193" y2="148"/>
<line x1="1245" y1="203" x2="1420" y2="203"/><line x1="1295" y1="463" x2="1330" y2="463"/><line x1="1245" y1="1052" x2="1335" y2="1052"/><line x1="1245" y1="1345" x2="1420" y2="1345"/>
<line x1="1320" y1="203" x2="1320" y2="463"/><line x1="1418" y1="203" x2="1418" y2="1345"/><line x1="1330" y1="1052" x2="1330" y2="1345"/>
<line x1="122" y1="1410" x2="122" y2="1600"/><line x1="514" y1="1410" x2="514" y2="1500"/><line x1="570" y1="1410" x2="570" y2="1500"/>
<line x1="957" y1="1410" x2="957" y2="1490"/><line x1="1015" y1="1410" x2="1015" y2="1490"/><line x1="1193" y1="1410" x2="1193" y2="1600"/>
<line x1="122" y1="1487" x2="614" y2="1487"/><line x1="912" y1="1476" x2="1193" y2="1476"/>
<line x1="122" y1="1615" x2="1193" y2="1615"/>
<line x1="-500" y1="203" x2="55" y2="203"/><line x1="-400" y1="560" x2="55" y2="560"/><line x1="-400" y1="855" x2="55" y2="855"/><line x1="-400" y1="1018" x2="55" y2="1018"/><line x1="-500" y1="1345" x2="55" y2="1345"/><line x1="-300" y1="398" x2="0" y2="398"/>
<line x1="-470" y1="203" x2="-470" y2="1345"/><line x1="-240" y1="203" x2="-240" y2="1345"/><line x1="-120" y1="203" x2="-120" y2="560"/><line x1="-200" y1="1183" x2="-200" y2="1345"/>
</g>
<g stroke-width="3" fill="none">
<line x1="115" y1="937" x2="190" y2="937" stroke="#e6e600"/><line x1="115" y1="952" x2="190" y2="952" stroke="#e6e600"/><circle cx="169" cy="944" r="14" stroke="#e6e600"/>
<line x1="122" y1="1100" x2="197" y2="1100" stroke="#00d000"/><line x1="122" y1="1116" x2="197" y2="1116" stroke="#00d000"/><circle cx="175" cy="1108" r="14" stroke="#00d000"/>
<line x1="122" y1="1134" x2="197" y2="1134" stroke="#e0007a"/><line x1="122" y1="1150" x2="197" y2="1150" stroke="#e0007a"/><circle cx="174" cy="1142" r="14" stroke="#e0007a"/>
</g>
<g font-size="34">
<text x="183" y="231" text-anchor="middle">WF3</text>
<text x="318" y="231" text-anchor="middle">BF3</text>
<text x="130" y="286">W3042</text>
<text x="206" y="369">NEW</text><text x="208" y="404">SINK</text><text x="208" y="438">LINES</text>
<text x="317" y="521" text-anchor="middle">SB30</text>
<text x="300" y="732" text-anchor="middle">2DB27</text>
<text x="308" y="945" text-anchor="middle">4DB15</text>
<text x="280" y="1091" text-anchor="middle">W272724</text>
<text x="230" y="1166">NEW</text><text x="232" y="1201">WASHER</text><text x="233" y="1235">LINES</text>
<text x="662" y="156" text-anchor="middle">HALLWAY</text>
<text x="1043" y="339" text-anchor="middle">CUBBY</text>
<text x="1043" y="389" text-anchor="middle">STORAGE</text>
<text x="655" y="776" text-anchor="middle">C.H. 108''</text>
<text x="615" y="838" font-size="29">CUSTOM 36" DEEP PANELS</text>
<text x="1212" y="873" text-anchor="middle">POWDER ROOM</text>
<text x="1095" y="1216" text-anchor="middle">W242415</text>
<text x="665" y="1277">39.75'' H</text>
<text x="665" y="1326">41.75'' AFF</text>
<text x="-520" y="610" font-size="28">FLOATING</text>
<text x="-520" y="644" font-size="28">SHELVES</text>
</g>
<g font-size="46">
<text x="253" y="78" text-anchor="middle">24</text>
<text x="1007" y="78">27<tspan font-size="38" dy="-18">1</tspan><tspan font-size="38" dx="-22" dy="38">4</tspan></text>
<text x="1320" y="350" text-anchor="middle">24</text>
<text x="1415" y="790" text-anchor="middle">105</text>
<text x="1330" y="1215" text-anchor="middle">27</text>
<text x="318" y="1503" text-anchor="middle">36</text>
<text x="517" y="1503">5<tspan font-size="38" dy="-18">1</tspan><tspan font-size="38" dx="-22" dy="38">4</tspan></text>
<text x="962" y="1491">5<tspan font-size="38" dy="-18">1</tspan><tspan font-size="38" dx="-22" dy="38">4</tspan></text>
<text x="1065" y="1491">16<tspan font-size="38" dy="-18">3</tspan><tspan font-size="38" dx="-22" dy="38">8</tspan></text>
<text x="560" y="1625">98<tspan font-size="38" dy="-18">3</tspan><tspan font-size="38" dx="-22" dy="38">8</tspan></text>
<text x="330" y="-150">98<tspan font-size="38" dy="-18">3</tspan><tspan font-size="38" dx="-22" dy="38">8</tspan></text>
<text x="-480" y="810" text-anchor="middle">105</text>
<text x="-230" y="166">3</text>
<text x="-120" y="317" text-anchor="middle">18</text>
<text x="-240" y="415" text-anchor="middle">30</text>
<text x="-240" y="720" text-anchor="middle">27</text>
<text x="-240" y="950" text-anchor="middle">15</text>
<text x="-240" y="1190" text-anchor="middle">30</text>
<text x="-280" y="1280" text-anchor="middle">15</text>
<text x="-200" y="1285" text-anchor="middle">13</text>
</g>
<g stroke="#000" stroke-width="3" fill="none">
<line x1="122" y1="-160" x2="1193" y2="-160"/><line x1="122" y1="-170" x2="122" y2="0"/><line x1="1193" y1="-170" x2="1193" y2="0"/>
<polyline points="-240,165 -240,150 -210,150"/>
</g>
</g>
</svg>
</body></html>
